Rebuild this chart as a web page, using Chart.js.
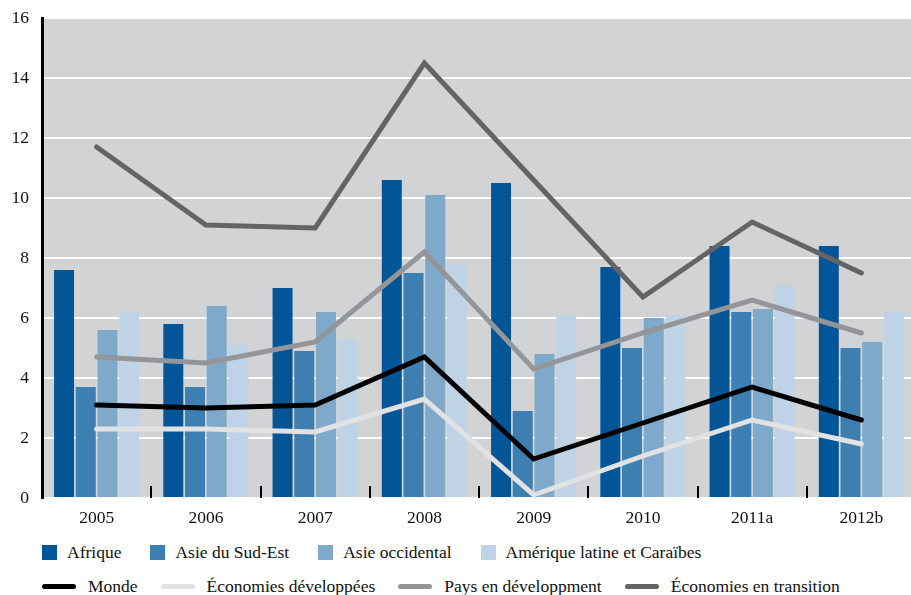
<!DOCTYPE html>
<html lang="fr">
<head>
<meta charset="utf-8">
<title>Croissance</title>
<script src="https://cdn.jsdelivr.net/npm/chart.js@4/dist/chart.umd.min.js"></script>
<style>
  html, body { margin: 0; padding: 0; background: #fff; overflow: hidden; }
  #wrap { position: relative; width: 920px; height: 530px; }
  #legende {
    position: absolute; left: 42px; top: 540px;
    font-family: "Liberation Serif", "DejaVu Serif", serif; font-size: 17.5px; color: #111;
  }
  .rang { display: flex; align-items: center; height: 24px; margin-bottom: 10px; }
  .rang1 { gap: 29px; }
  .rang2 { gap: 23px; }
  .item { display: flex; align-items: center; white-space: nowrap; }
  .carre { width: 15px; height: 15px; margin-right: 10px; }
  .trait { width: 34px; height: 5px; border-radius: 3px; margin-right: 12px; }
</style>
</head>
<body>
<div id="wrap"><canvas id="graphique"></canvas></div>
<div id="legende"></div>
<script>
const annees = ["2005", "2006", "2007", "2008", "2009", "2010", "2011a", "2012b"];

// barres par région
const afrique = [7.6, 5.8, 7.0, 10.6, 10.5, 7.7, 8.4, 8.4];
const asieSudEst = [3.7, 3.7, 4.9, 7.5, 2.9, 5.0, 6.2, 5.0];
const asieOccidental = [5.6, 6.4, 6.2, 10.1, 4.8, 6.0, 6.3, 5.2];
const ameriqueLatine = [6.2, 5.1, 5.3, 7.8, 6.1, 6.1, 7.1, 6.2];

// courbes par groupe
const monde = [3.1, 3.0, 3.1, 4.7, 1.3, 2.5, 3.7, 2.6];
const developpees = [2.3, 2.3, 2.2, 3.3, 0.1, 1.4, 2.6, 1.8];
const enDeveloppement = [4.7, 4.5, 5.2, 8.2, 4.3, 5.5, 6.6, 5.5];
const transition = [11.7, 9.1, 9.0, 14.5, 10.6, 6.7, 9.2, 7.5];

const yTicks = [0, 2, 4, 6, 8, 10, 12, 14, 16];

const police = "'Liberation Serif', 'DejaVu Serif', serif";

function barre(label, data, couleur) {
  return {
    type: "bar", label: label, data: data, backgroundColor: couleur,
    barPercentage: 0.92, categoryPercentage: 0.795, order: 2
  };
}
function courbe(label, data, couleur) {
  return {
    type: "line", label: label, data: data, borderColor: couleur, backgroundColor: couleur,
    borderWidth: 5, borderCapStyle: "round", pointRadius: 0, tension: 0, order: 1
  };
}

const datasets = [
  barre("Afrique", afrique, "#025596"),
  barre("Asie du Sud-Est", asieSudEst, "#3e7fb1"),
  barre("Asie occidental", asieOccidental, "#7ea9cb"),
  barre("Amérique latine et Caraïbes", ameriqueLatine, "#bed4e6"),
  courbe("Monde", monde, "#000000"),
  courbe("Économies développées", developpees, "#e1e2e3"),
  courbe("Pays en développment", enDeveloppement, "#939598"),
  courbe("Économies en transition", transition, "#636466")
];

// fond gris de la zone de tracé
const fondGris = {
  id: "fondGris",
  beforeDraw(chart) {
    const { ctx, chartArea: a } = chart;
    ctx.save();
    ctx.fillStyle = "#d2d3d5";
    ctx.fillRect(a.left, a.top + 1, a.right - a.left, a.bottom - a.top - 1);
    ctx.restore();
  }
};

// petits traits entre les années, dessinés vers le haut
const separateurs = {
  id: "separateurs",
  afterDatasetsDraw(chart) {
    const { ctx, chartArea: a, scales } = chart;
    const x = scales.x;
    ctx.save();
    ctx.strokeStyle = "#000";
    ctx.lineWidth = 2;
    for (let i = 1; i < annees.length; i++) {
      const px = Math.round((x.getPixelForValue(i - 1) + x.getPixelForValue(i)) / 2);
      ctx.beginPath();
      ctx.moveTo(px, a.bottom - 12);
      ctx.lineTo(px, a.bottom);
      ctx.stroke();
    }
    ctx.restore();
  }
};

const graphique = new Chart(document.getElementById("graphique"), {
  data: { labels: annees, datasets: datasets },
  options: {
    responsive: true,
    maintainAspectRatio: false,
    animation: false,
    layout: { padding: { left: 0, right: 4, top: 0, bottom: 0 } },
    plugins: { legend: { display: false }, tooltip: { enabled: false } },
    scales: {
      x: {
        grid: { display: false, drawTicks: false },
        border: { display: false },
        ticks: { color: "#111", padding: 10, font: { family: police, size: 17.5 } },
        afterFit(scale) { scale.height = 32; }
      },
      y: {
        min: 0, max: 16,
        afterBuildTicks(scale) { scale.ticks = yTicks.map(v => ({ value: v })); },
        grid: { color: "#ffffff", lineWidth: 2, drawTicks: false },
        border: { display: true, color: "#000", width: 3 },
        ticks: { color: "#111", padding: 13, font: { family: police, size: 17.5 } },
        afterFit(scale) {
          scale.width = 42;
          scale.paddingTop = 18;
          scale.paddingBottom = 0;
        }
      }
    }
  },
  plugins: [fondGris, separateurs]
});

// légende en deux rangées : régions puis groupes
const legende = document.getElementById("legende");
const rangs = [datasets.filter(d => d.type === "bar"), datasets.filter(d => d.type === "line")];
rangs.forEach((items, r) => {
  const rang = document.createElement("div");
  rang.className = "rang rang" + (r + 1);
  items.forEach(d => {
    const item = document.createElement("div");
    item.className = "item";
    const marque = document.createElement("span");
    marque.className = d.type === "bar" ? "carre" : "trait";
    marque.style.background = d.type === "bar" ? d.backgroundColor : d.borderColor;
    const texte = document.createElement("span");
    texte.textContent = d.label;
    item.appendChild(marque);
    item.appendChild(texte);
    rang.appendChild(item);
  });
  legende.appendChild(rang);
});
</script>
</body>
</html>
